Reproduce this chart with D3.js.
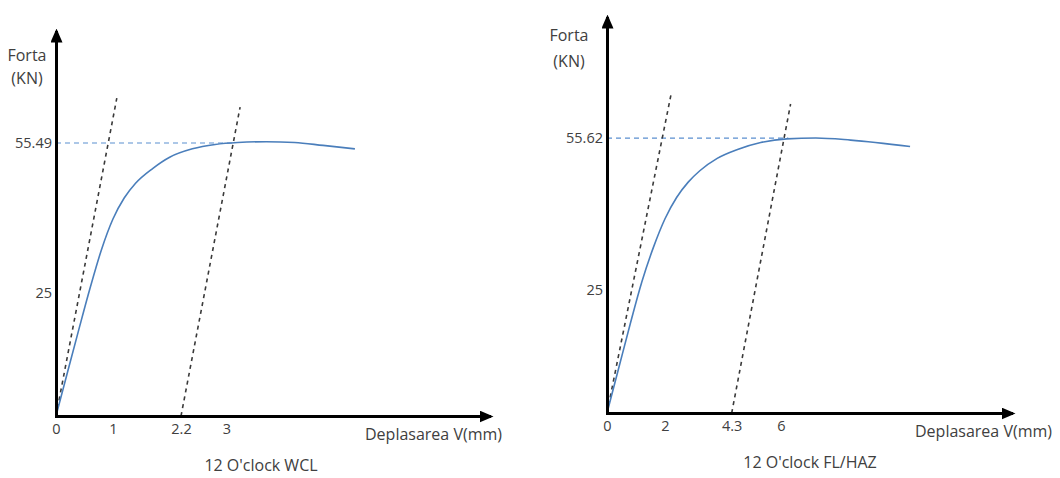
<!DOCTYPE html>
<html>
<head>
<meta charset="utf-8">
<script src="https://cdn.jsdelivr.net/npm/d3@7"></script>
<style>
  body { margin: 0; background: #fff; }
  svg text { font-family: "Open Sans", "Liberation Sans", sans-serif; fill: #404040; }
  .tick-lbl { font-size: 14.5px; }
  .lbl { font-size: 16px; }
</style>
</head>
<body>
<div id="chart"></div>
<script>
// Force (kN) vs displacement (mm) — two schematic panels

// left panel: 12 O'clock WCL
const wclDispl = [0, 0.2, 0.4, 0.6, 0.8, 1.0, 1.2, 1.4, 1.7, 2.0, 2.4, 2.8, 3.2, 3.7, 4.2, 4.7, 5.26];
const wclForce = [0, 8.8, 17.5, 26, 33.8, 40, 44.3, 47.3, 50.3, 52.6, 54.3, 55.2, 55.6, 55.75, 55.6, 55.0, 54.3];
const wclTangent1 = [[0, 0], [1.07, 64.6]];
const wclTangent2 = [[2.2, 0], [3.24, 62.8]];
const wclYield = [[0, 55.49], [3.12, 55.49]];
const wclXTicks = [0, 1, 2.2, 3];
const wclYTicks = [25, 55.49];

// right panel: 12 O'clock FL/HAZ
const hazDispl = [0, 0.4, 0.8, 1.2, 1.6, 2.0, 2.4, 2.8, 3.2, 3.8, 4.5, 5.3, 6.2, 7.2, 8.4, 10.45];
const hazForce = [0, 9, 18, 26.5, 33.5, 39.3, 43.6, 46.7, 49.0, 51.5, 53.3, 54.7, 55.45, 55.62, 55.2, 53.9];
const hazTangent1 = [[0, 0], [2.21, 64.5]];
const hazTangent2 = [[4.3, 0], [6.33, 62.5]];
const hazYield = [[0, 55.62], [6.25, 55.62]];
const hazXTicks = [0, 2, 4.3, 6];
const hazYTicks = [25, 55.62];

const width = 1060, height = 478;

const svg = d3.select("#chart").append("svg")
  .attr("width", width)
  .attr("height", height);

svg.append("defs").append("marker")
  .attr("id", "arrow")
  .attr("markerUnits", "userSpaceOnUse")
  .attr("markerWidth", 14).attr("markerHeight", 12)
  .attr("refX", 10).attr("refY", 6)
  .attr("orient", "auto")
  .append("path")
  .attr("d", "M0,0L14,6L0,12Z")
  .attr("fill", "#000");

function drawPanel(p) {
  const x = d3.scaleLinear().domain([0, p.xMax]).range([p.ox, p.xEnd]);
  const y = d3.scaleLinear().domain([0, p.yMax]).range([p.oy, p.yEnd]);

  // dashed yield line
  const line = d3.line().x(d => x(d[0])).y(d => y(d[1]));
  svg.append("path")
    .datum(p.yieldLine)
    .attr("d", line)
    .attr("fill", "none")
    .attr("stroke", "#5b8fd0")
    .attr("stroke-width", 1.2)
    .attr("stroke-dasharray", "5,4");

  // tangent lines
  [p.tan1, p.tan2].forEach(t => {
    svg.append("path")
      .datum(t)
      .attr("d", line)
      .attr("fill", "none")
      .attr("stroke", "#3a3a3a")
      .attr("stroke-width", 1.6)
      .attr("stroke-dasharray", "4,4");
  });

  // force curve
  const pts = p.displ.map((d, i) => [d, p.force[i]]);
  svg.append("path")
    .datum(pts)
    .attr("d", d3.line().x(d => x(d[0])).y(d => y(d[1])).curve(d3.curveMonotoneX))
    .attr("fill", "none")
    .attr("stroke", "#4a7ebb")
    .attr("stroke-width", 1.6);

  // axes
  const xAxis = svg.append("g")
    .attr("transform", `translate(0,${p.oy})`)
    .call(d3.axisBottom(x).tickValues(p.xTicks).tickSize(0).tickSizeOuter(0).tickPadding(8)
      .tickFormat(d => String(d)));
  const yAxis = svg.append("g")
    .attr("transform", `translate(${p.ox},0)`)
    .call(d3.axisLeft(y).tickValues(p.yTicks).tickSize(0).tickSizeOuter(0).tickPadding(4)
      .tickFormat(d => String(d)));

  [xAxis, yAxis].forEach(a => {
    a.attr("font-family", null).attr("font-size", null);
    a.select(".domain")
      .attr("stroke", "#000")
      .attr("stroke-width", 3)
      .attr("stroke-linecap", "square")
      .attr("marker-end", "url(#arrow)");
    a.selectAll(".tick text").attr("class", "tick-lbl").attr("fill", null);
  });

  // labels
  svg.append("text").attr("class", "lbl")
    .attr("x", p.yLabelX).attr("y", p.yLabelY)
    .attr("text-anchor", "middle").text("Forta");
  svg.append("text").attr("class", "lbl")
    .attr("x", p.yLabelX).attr("y", p.yLabelY + p.yLabelGap)
    .attr("text-anchor", "middle").text("(KN)");
  svg.append("text").attr("class", "lbl")
    .attr("x", p.xLabelX).attr("y", p.xLabelY)
    .attr("text-anchor", "end").text("Deplasarea V(mm)");
  svg.append("text").attr("class", "lbl")
    .attr("x", p.titleX).attr("y", p.titleY)
    .attr("text-anchor", "middle").text(p.title);
}

drawPanel({
  displ: wclDispl, force: wclForce,
  tan1: wclTangent1, tan2: wclTangent2, yieldLine: wclYield,
  xTicks: wclXTicks, yTicks: wclYTicks,
  xMax: 7.62, yMax: 78.05,
  ox: 56, oy: 416, xEnd: 489, yEnd: 32,
  yLabelX: 27, yLabelY: 61, yLabelGap: 23,
  xLabelX: 502, xLabelY: 440,
  titleX: 261, titleY: 471,
  title: "12 O'clock WCL"
});

drawPanel({
  displ: hazDispl, force: hazForce,
  tan1: hazTangent1, tan2: hazTangent2, yieldLine: hazYield,
  xTicks: hazXTicks, yTicks: hazYTicks,
  xMax: 13.93, yMax: 79.9,
  ox: 607, oy: 413, xEnd: 1011, yEnd: 18,
  yLabelX: 569, yLabelY: 41, yLabelGap: 26,
  xLabelX: 1052, xLabelY: 437,
  titleX: 810, titleY: 468,
  title: "12 O'clock FL/HAZ"
});
</script>
</body>
</html>
